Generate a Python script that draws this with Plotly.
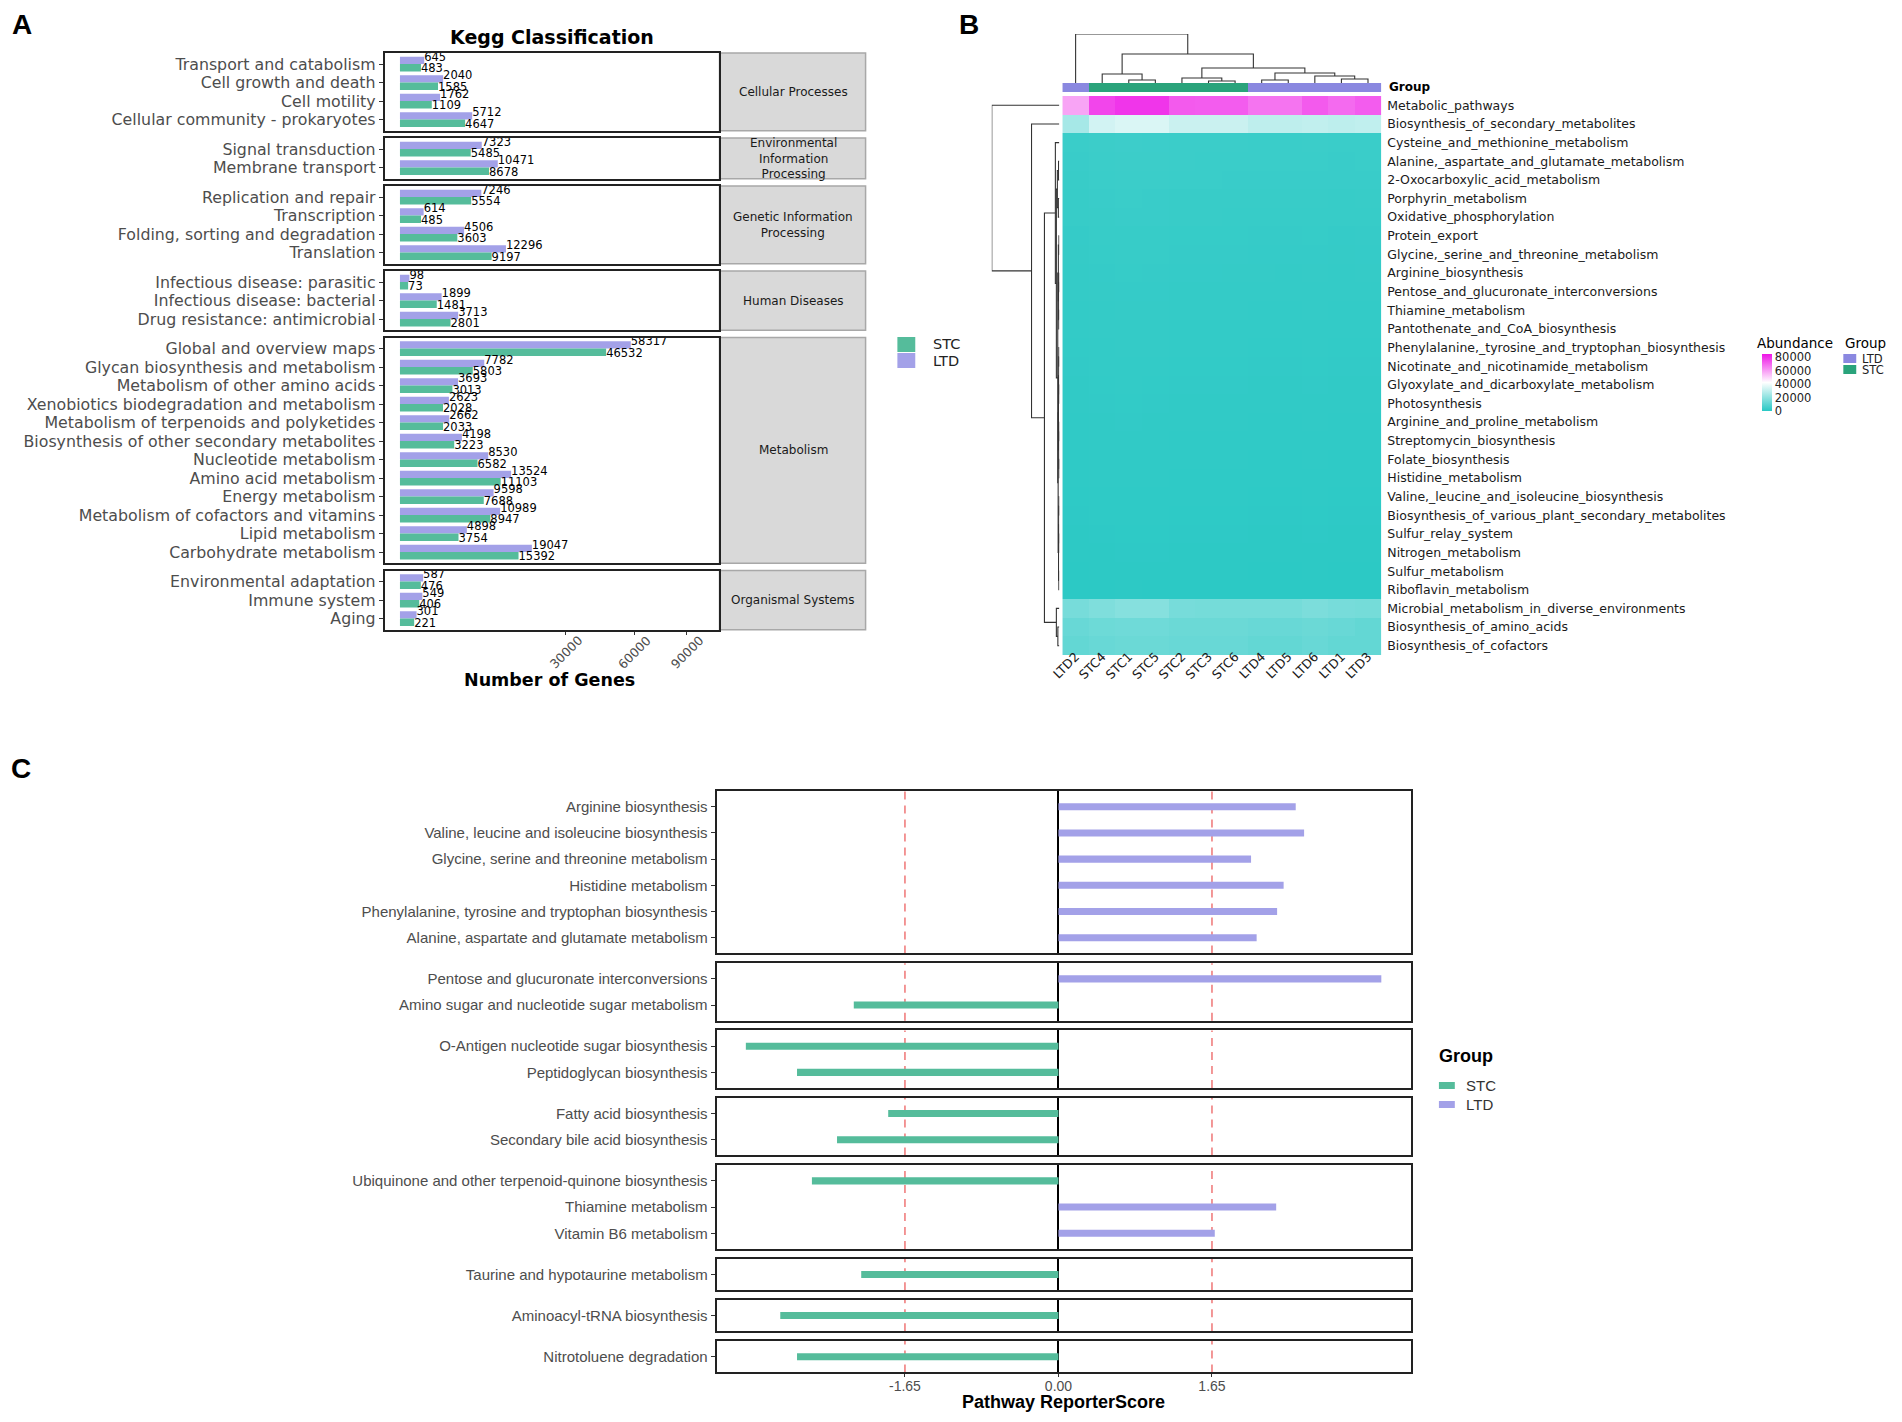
import numpy as np
import plotly.graph_objects as go

# page is rendered inside a body with an 8px margin: keep the figure inside the window
PAGE_W, PAGE_H, BODY = 1902, 1422, 8
W, H = PAGE_W - 2 * BODY, PAGE_H - 2 * BODY
XS = 5  # small horizontal correction

# ======================= DATA =======================
# ---- Panel A: KEGG level-2 gene counts (LTD / STC) ----
a_strip_labels = ["Cellular Processes", "Environmental<br>Information<br>Processing",
                  "Genetic Information<br>Processing", "Human Diseases",
                  "Metabolism", "Organismal Systems"]

cellular_terms = ["Transport and catabolism", "Cell growth and death", "Cell motility",
                  "Cellular community - prokaryotes"]
cellular_ltd = [645, 2040, 1762, 5712]
cellular_stc = [483, 1585, 1109, 4647]

environmental_terms = ["Signal transduction", "Membrane transport"]
environmental_ltd = [7323, 10471]
environmental_stc = [5485, 8678]

genetic_terms = ["Replication and repair", "Transcription",
                 "Folding, sorting and degradation", "Translation"]
genetic_ltd = [7246, 614, 4506, 12296]
genetic_stc = [5554, 485, 3603, 9197]

human_terms = ["Infectious disease: parasitic", "Infectious disease: bacterial",
               "Drug resistance: antimicrobial"]
human_ltd = [98, 1899, 3713]
human_stc = [73, 1481, 2801]

metabolism_terms = ["Global and overview maps", "Glycan biosynthesis and metabolism",
                    "Metabolism of other amino acids", "Xenobiotics biodegradation and metabolism",
                    "Metabolism of terpenoids and polyketides",
                    "Biosynthesis of other secondary metabolites", "Nucleotide metabolism",
                    "Amino acid metabolism", "Energy metabolism",
                    "Metabolism of cofactors and vitamins", "Lipid metabolism",
                    "Carbohydrate metabolism"]
metabolism_ltd = [58317, 7782, 3693, 2623, 2662, 4198, 8530, 13524, 9598, 10989, 4898, 19047]
metabolism_stc = [46532, 5803, 3013, 2028, 2033, 3223, 6582, 11103, 7688, 8947, 3754, 15392]

organismal_terms = ["Environmental adaptation", "Immune system", "Aging"]
organismal_ltd = [587, 549, 301]
organismal_stc = [476, 406, 221]

a_x_ticks = [30000, 60000, 90000]

# ---- Panel B: pathway abundance heatmap ----
samples = ["LTD2", "STC4", "STC1", "STC5", "STC2", "STC3", "STC6",
           "LTD4", "LTD5", "LTD6", "LTD1", "LTD3"]
sample_group = ["LTD", "STC", "STC", "STC", "STC", "STC", "STC",
                "LTD", "LTD", "LTD", "LTD", "LTD"]
pathways = ["Metabolic_pathways", "Biosynthesis_of_secondary_metabolites",
            "Cysteine_and_methionine_metabolism", "Alanine,_aspartate_and_glutamate_metabolism",
            "2-Oxocarboxylic_acid_metabolism", "Porphyrin_metabolism",
            "Oxidative_phosphorylation", "Protein_export",
            "Glycine,_serine_and_threonine_metabolism", "Arginine_biosynthesis",
            "Pentose_and_glucuronate_interconversions", "Thiamine_metabolism",
            "Pantothenate_and_CoA_biosynthesis",
            "Phenylalanine,_tyrosine_and_tryptophan_biosynthesis",
            "Nicotinate_and_nicotinamide_metabolism", "Glyoxylate_and_dicarboxylate_metabolism",
            "Photosynthesis", "Arginine_and_proline_metabolism", "Streptomycin_biosynthesis",
            "Folate_biosynthesis", "Histidine_metabolism",
            "Valine,_leucine_and_isoleucine_biosynthesis",
            "Biosynthesis_of_various_plant_secondary_metabolites", "Sulfur_relay_system",
            "Nitrogen_metabolism", "Sulfur_metabolism", "Riboflavin_metabolism",
            "Microbial_metabolism_in_diverse_environments", "Biosynthesis_of_amino_acids",
            "Biosynthesis_of_cofactors"]
abundance = [
    [58900, 76100, 79000, 79000, 72400, 72000, 72000, 67600, 67600, 72400, 69500, 72000],
    [25000, 33600, 35200, 35200, 32000, 32000, 32000, 29700, 29700, 30200, 29500, 30000],
    [3500, 3900, 4100, 4000, 3800, 3800, 3700, 3600, 3600, 3700, 3500, 3600],
    [3400, 3800, 3900, 3900, 3700, 3600, 3600, 3500, 3500, 3600, 3400, 3500],
    [3200, 3600, 3700, 3700, 3500, 3500, 3400, 3300, 3300, 3400, 3300, 3300],
    [3000, 3300, 3500, 3400, 3200, 3200, 3200, 3100, 3100, 3100, 3000, 3100],
    [2900, 3200, 3300, 3300, 3100, 3100, 3000, 3000, 2900, 3000, 2900, 3000],
    [2600, 2900, 3000, 3000, 2800, 2800, 2800, 2700, 2700, 2800, 2600, 2700],
    [2500, 2800, 2900, 2900, 2700, 2700, 2700, 2600, 2600, 2600, 2500, 2600],
    [2400, 2600, 2800, 2700, 2600, 2600, 2500, 2500, 2400, 2500, 2400, 2500],
    [2300, 2500, 2600, 2600, 2400, 2400, 2400, 2400, 2300, 2400, 2300, 2300],
    [2200, 2400, 2500, 2500, 2300, 2300, 2300, 2200, 2200, 2300, 2200, 2200],
    [2100, 2300, 2400, 2400, 2200, 2200, 2200, 2100, 2100, 2200, 2100, 2100],
    [2000, 2200, 2300, 2300, 2100, 2100, 2100, 2000, 2000, 2100, 2000, 2000],
    [1900, 2100, 2200, 2100, 2000, 2000, 2000, 1900, 1900, 2000, 1900, 1900],
    [1800, 2000, 2100, 2000, 1900, 1900, 1900, 1800, 1800, 1900, 1800, 1800],
    [1700, 1900, 2000, 1900, 1800, 1800, 1800, 1700, 1700, 1800, 1700, 1700],
    [1600, 1800, 1900, 1800, 1700, 1700, 1700, 1600, 1600, 1700, 1600, 1600],
    [1500, 1700, 1700, 1700, 1600, 1600, 1600, 1500, 1500, 1600, 1500, 1500],
    [1400, 1600, 1600, 1600, 1500, 1500, 1500, 1400, 1400, 1500, 1400, 1400],
    [1300, 1500, 1500, 1500, 1400, 1400, 1400, 1300, 1300, 1400, 1300, 1300],
    [1200, 1400, 1400, 1400, 1300, 1300, 1300, 1200, 1200, 1300, 1200, 1200],
    [1100, 1300, 1300, 1300, 1200, 1200, 1200, 1100, 1100, 1200, 1100, 1100],
    [1000, 1100, 1200, 1200, 1100, 1100, 1100, 1000, 1000, 1100, 1000, 1000],
    [900, 1000, 1100, 1100, 1000, 1000, 1000, 900, 900, 1000, 900, 900],
    [800, 900, 1000, 1000, 900, 900, 900, 800, 800, 900, 800, 800],
    [700, 800, 900, 800, 800, 800, 800, 700, 700, 800, 700, 700],
    [15600, 17200, 18560, 18560, 15640, 15240, 15240, 15240, 15240, 16600, 15640, 15240],
    [12700, 13670, 14060, 14060, 13300, 13300, 13300, 12700, 12700, 13300, 12700, 11700],
    [11700, 12700, 13300, 13300, 12700, 12700, 12700, 11700, 11700, 12700, 11700, 11700],
]
abund_ticks = [0, 20000, 40000, 60000, 80000]
abund_max = 85000
# column clustering: (left, right, merge height)
col_tree = ("LTD2",
            (("STC4", ("STC1", "STC5", 3), 9),
             (("STC2", ("STC3", "STC6", 2), 5),
              (("LTD4", "LTD5", 3), ("LTD6", ("LTD1", "LTD3", 4), 7), 10), 15), 29), 49)
# row clustering on pathway indices
row_tree = (0,
            (1,
             ((2,
               (((3, 4, 0.8), (5, 6, 1.0), 2.0),
                (((7, 8, 0.4), ((9, 10, 0.3), (11, 12, 0.5), 0.7), 1.0),
                 ((((13, 14, 0.4), (15, 16, 0.3), 0.6), ((17, 18, 0.3), (19, 20, 0.2), 0.5), 0.9),
                  (((21, 22, 0.3), (23, 24, 0.4), 0.6), (25, 26, 0.5), 0.8), 1.2), 1.6), 3.0), 4.0),
              (27, (28, 29, 1.5), 3), 15), 28), 68)

# ---- Panel C: pathway ReporterScore ----
c_facet_terms = [
    ["Arginine biosynthesis", "Valine, leucine and isoleucine biosynthesis",
     "Glycine, serine and threonine metabolism", "Histidine metabolism",
     "Phenylalanine, tyrosine and tryptophan biosynthesis",
     "Alanine, aspartate and glutamate metabolism"],
    ["Pentose and glucuronate interconversions", "Amino sugar and nucleotide sugar metabolism"],
    ["O-Antigen nucleotide sugar biosynthesis", "Peptidoglycan biosynthesis"],
    ["Fatty acid biosynthesis", "Secondary bile acid biosynthesis"],
    ["Ubiquinone and other terpenoid-quinone biosynthesis", "Thiamine metabolism",
     "Vitamin B6 metabolism"],
    ["Taurine and hypotaurine metabolism"],
    ["Aminoacyl-tRNA biosynthesis"],
    ["Nitrotoluene degradation"],
]
c_facet_scores = [
    [2.55, 2.64, 2.07, 2.42, 2.35, 2.13],
    [3.47, -2.20],
    [-3.36, -2.81],
    [-1.83, -2.38],
    [-2.65, 2.34, 1.68],
    [-2.12],
    [-2.99],
    [-2.81],
]
c_threshold = 1.65
c_ticks = [-1.65, 0.0, 1.65]
c_ticktext = ["-1.65", "0.00", "1.65"]

# ======================= STYLE =======================
STC_COL = "#55BC9B"
LTD_COL = "#A3A1E8"
GRP_STC = "#2AA37B"
GRP_LTD = "#8A88E0"
AXTXT = "#4D4D4D"
SANS = "DejaVu Sans"
ARIAL = "Liberation Sans"


def px(x):  # page pixel -> paper fraction
    return (x - BODY - XS) / W


def py(y):
    return 1 - (y - BODY) / H


layout = {}
traces = []
shapes = []
annotations = []
counter = [0]


def new_axes(x0, x1, top, bottom, xa, ya):
    counter[0] += 1
    n = counter[0]
    s = "" if n == 1 else str(n)
    xa = dict(xa)
    ya = dict(ya)
    xa.update(domain=[px(x0), px(x1)], anchor="y" + s)
    ya.update(domain=[py(bottom), py(top)], anchor="x" + s)
    layout["xaxis" + s] = xa
    layout["yaxis" + s] = ya
    return "x" + s, "y" + s


def text(x, y, s, size, family=SANS, color="black", xanchor="center", bold=False):
    annotations.append(dict(x=px(x), y=py(y), xref="paper", yref="paper",
                            text=("<b>%s</b>" % s) if bold else s, showarrow=False,
                            xanchor=xanchor, yanchor="middle",
                            font=dict(size=size, family=family, color=color)))


def rect(x0, y0, x1, y1, fill, line=None, lw=0):
    shapes.append(dict(type="rect", xref="paper", yref="paper",
                       x0=px(x0), x1=px(x1), y0=py(y1), y1=py(y0),
                       fillcolor=fill, line=dict(color=line or fill, width=lw), layer="below"))


# ======================= PANEL A =======================
a_facets = [(cellular_terms, cellular_ltd, cellular_stc),
            (environmental_terms, environmental_ltd, environmental_stc),
            (genetic_terms, genetic_ltd, genetic_stc),
            (human_terms, human_ltd, human_stc),
            (metabolism_terms, metabolism_ltd, metabolism_stc),
            (organismal_terms, organismal_ltd, organismal_stc)]
A_L, A_R, S_R = 380, 716, 864
top, unit, gap = 53.0, 18.5, 7.3
a_range = [-16.0, 333.3]
for k, (terms, ltd, stc) in enumerate(a_facets):
    n = len(terms)
    pos = list(range(n))
    bottom = top + (n + 0.2) * unit
    last = k == len(a_facets) - 1
    xa = dict(range=a_range, showgrid=False, zeroline=False, showline=True, mirror=True,
              linecolor="#222", linewidth=1.8, fixedrange=True,
              showticklabels=False, ticks="outside" if last else "", ticklen=3,
              tickcolor="#333", tickvals=list(np.sqrt(a_x_ticks)))
    ya = dict(range=[n - 0.4, -0.6], tickvals=pos, ticktext=terms, showgrid=False,
              zeroline=False, showline=True, mirror=True, linecolor="#222", linewidth=1.8,
              ticks="outside", ticklen=4, tickcolor="#333",
              tickfont=dict(family=SANS, size=15.8, color=AXTXT))
    xr, yr = new_axes(A_L, A_R, top, bottom, xa, ya)
    for vals, col, off, tshift in ((ltd, LTD_COL, -0.4, -0.345), (stc, STC_COL, 0.0, 0.285)):
        traces.append(go.Bar(x=np.sqrt(vals), y=pos, orientation="h", offset=off, width=0.4,
                             marker=dict(color=col, line=dict(width=0)),
                             xaxis=xr, yaxis=yr, hoverinfo="skip", showlegend=False))
        traces.append(go.Scatter(x=np.sqrt(vals), y=[p + tshift for p in pos], mode="text",
                                 text=[str(v) for v in vals], textposition="middle right",
                                 textfont=dict(family=SANS, size=11.5, color="black"),
                                 cliponaxis=False, xaxis=xr, yaxis=yr, hoverinfo="skip",
                                 showlegend=False))
    if last:
        # rotated tick labels, centred under their ticks (as in ggplot angle=45)
        for t in a_x_ticks:
            annotations.append(dict(x=float(np.sqrt(t)), xref=xr, y=py(652), yref="paper",
                                    text=str(t), showarrow=False, textangle=-45,
                                    xanchor="center", yanchor="middle",
                                    font=dict(family=SANS, size=12.5, color=AXTXT)))
    rect(A_R + 1, top, S_R, bottom, "#D9D9D9", "#A8A8A8", 1.5)
    text((A_R + S_R) / 2 + 1, (top + bottom) / 2, a_strip_labels[k], 12, color="#1A1A1A")
    top = bottom + gap

text(548, 37, "Kegg Classification", 19, bold=True)
text(546, 680, "Number of Genes", 17.5, bold=True)
# legend A
rect(896, 337, 914, 352, STC_COL)
rect(896, 353, 914, 368, LTD_COL)
text(930, 344, "STC", 14.5, color="#222", xanchor="left")
text(930, 361, "LTD", 14.5, color="#222", xanchor="left")

# ======================= PANEL B =======================
HM_L, HM_R, HM_T, HM_B = 1062, 1383, 96, 655
nrow, ncol = len(pathways), len(samples)


def walk(node, pos_of, segs):
    if not isinstance(node, tuple):
        return pos_of[node], 0.0
    left, right, h = node
    pl, hl = walk(left, pos_of, segs)
    pr, hr = walk(right, pos_of, segs)
    segs.append([(pl, hl), (pl, h), (pr, h), (pr, hr)])
    return (pl + pr) / 2.0, h


# heatmap
xa = dict(type="category", range=[-0.5, ncol - 0.5], showgrid=False, zeroline=False,
          showline=False, ticks="", tickangle=-45, ticklabelstandoff=-9,
          tickfont=dict(family=SANS, size=12.5, color="#1A1A1A"))
ya = dict(type="category", range=[nrow - 0.5, -0.5], showgrid=False, zeroline=False,
          showline=False, ticks="", side="right", ticklabelstandoff=5,
          tickfont=dict(family=SANS, size=12.5, color="#1A1A1A"))
xr, yr = new_axes(HM_L, HM_R, HM_T, HM_B, xa, ya)
traces.append(go.Heatmap(z=abundance, x=samples, y=pathways, xaxis=xr, yaxis=yr,
                         zmin=0, zmax=abund_max,
                         colorscale=[[0, "#28C8C4"], [0.5, "#FFFFFF"], [1, "#EE14E6"]],
                         hoverinfo="skip",
                         colorbar=dict(x=px(1766), xanchor="left", y=py(354), yanchor="top",
                                       lenmode="pixels", len=57, thicknessmode="pixels",
                                       thickness=10, xpad=0, ypad=0, outlinewidth=0,
                                       tickvals=abund_ticks,
                                       ticktext=[str(t) for t in abund_ticks], ticks="",
                                       tickfont=dict(family=SANS, size=11.5, color="#222"))))
# group annotation bar
xa = dict(type="category", range=[-0.5, ncol - 0.5], visible=False)
ya = dict(range=[-0.5, 0.5], visible=False)
xr, yr = new_axes(HM_L, HM_R, 83, 92, xa, ya)
traces.append(go.Heatmap(z=[[1 if g == "LTD" else 0 for g in sample_group]], x=samples, y=[0],
                         xaxis=xr, yaxis=yr, zmin=0, zmax=1, showscale=False,
                         colorscale=[[0, GRP_STC], [0.5, GRP_STC], [0.5, GRP_LTD], [1, GRP_LTD]],
                         hoverinfo="skip"))
text(1389, 87.5, "Group", 12, bold=True, xanchor="left")

# column dendrogram
segs = []
root_pos, root_h = walk(col_tree, {s: i for i, s in enumerate(samples)}, segs)
xs, ys = [], []
for sg in segs:
    xs += [p for p, _ in sg] + [None]
    ys += [h for _, h in sg] + [None]
xa = dict(range=[-0.5, ncol - 0.5], visible=False)
ya = dict(range=[0, root_h], visible=False)
xr, yr = new_axes(HM_L, HM_R, 34, 83, xa, ya)
traces.append(go.Scatter(x=xs, y=ys, mode="lines", line=dict(color="#333", width=1.1),
                         xaxis=xr, yaxis=yr, hoverinfo="skip", showlegend=False))

# row dendrogram
segs = []
root_pos, root_h = walk(row_tree, {i: i for i in range(nrow)}, segs)
xs, ys = [], []
for sg in segs:
    xs += [h for _, h in sg] + [None]
    ys += [p for p, _ in sg] + [None]
xa = dict(range=[root_h, 0], visible=False)
ya = dict(range=[nrow - 0.5, -0.5], visible=False)
xr, yr = new_axes(991, 1059, HM_T, HM_B, xa, ya)
traces.append(go.Scatter(x=xs, y=ys, mode="lines", line=dict(color="#333", width=1.1),
                         xaxis=xr, yaxis=yr, hoverinfo="skip", showlegend=False))

# legend B
text(1759, 343, "Abundance", 13.5, xanchor="left")
text(1848, 343, "Group", 13.5, xanchor="left")
rect(1848, 354, 1861, 363, GRP_LTD)
rect(1848, 365, 1861, 374, GRP_STC)
text(1865, 359, "LTD", 11.5, xanchor="left", color="#222")
text(1865, 370, "STC", 11.5, xanchor="left", color="#222")

# ======================= PANEL C =======================
C_L, C_R = 714, 1413
c_range = [-3.675, 3.79]
top, unit, gap = 791.0, 26.2, 9.7
for k, (terms, scores) in enumerate(zip(c_facet_terms, c_facet_scores)):
    n = len(terms)
    bottom = top + (n + 0.2) * unit
    last = k == len(c_facet_terms) - 1
    xa = dict(range=c_range, showgrid=False, zeroline=True, zerolinecolor="black",
              zerolinewidth=1.6, showline=True, mirror=True, linecolor="#222", linewidth=1.8,
              showticklabels=last, ticks="outside" if last else "", ticklen=3, tickcolor="#333",
              ticklabelstandoff=-3, tickvals=c_ticks, ticktext=c_ticktext,
              tickfont=dict(family=ARIAL, size=14, color=AXTXT))
    ya = dict(type="category", categoryorder="array", categoryarray=terms,
              range=[n - 0.4, -0.6], showgrid=False, zeroline=False, showline=True,
              mirror=True, linecolor="#222", linewidth=1.8, ticks="outside", ticklen=4,
              tickcolor="#333", tickfont=dict(family=ARIAL, size=15, color=AXTXT))
    xr, yr = new_axes(C_L, C_R, top, bottom, xa, ya)
    traces.append(go.Bar(x=scores, y=terms, orientation="h", width=0.27,
                         marker=dict(color=[LTD_COL if s > 0 else STC_COL for s in scores],
                                     line=dict(width=0)),
                         xaxis=xr, yaxis=yr, hoverinfo="skip", showlegend=False))
    for xv in (-c_threshold, c_threshold):
        shapes.append(dict(type="line", xref=xr, yref=yr + " domain", x0=xv, x1=xv, y0=0, y1=1,
                           line=dict(color="#EF7676", width=1.5, dash="8px,6px"), layer="below"))
    top = bottom + gap

text(1063, 1402, "Pathway ReporterScore", 18, family=ARIAL, bold=True)
# legend C
text(1439, 1056, "Group", 18, family=ARIAL, bold=True, xanchor="left")
rect(1441, 1082, 1457, 1089, STC_COL)
rect(1441, 1101, 1457, 1108, LTD_COL)
text(1466, 1085, "STC", 15, family=ARIAL, color="#333", xanchor="left")
text(1466, 1104, "LTD", 15, family=ARIAL, color="#333", xanchor="left")

# panel letters
LETTER = "Liberation Sans Narrow, Liberation Sans"
text(15, 24, "A", 28, family=LETTER, bold=True)
text(968, 24, "B", 28, family=LETTER, bold=True)
text(14, 768, "C", 28, family=LETTER, bold=True)

fig = go.Figure(data=traces)
fig.update_layout(width=W, height=H, margin=dict(l=0, r=0, t=0, b=0),
                  paper_bgcolor="white", plot_bgcolor="white", barmode="overlay",
                  showlegend=False, shapes=shapes, annotations=annotations,
                  font=dict(family=SANS), **layout)
fig.write_html("out.html")
